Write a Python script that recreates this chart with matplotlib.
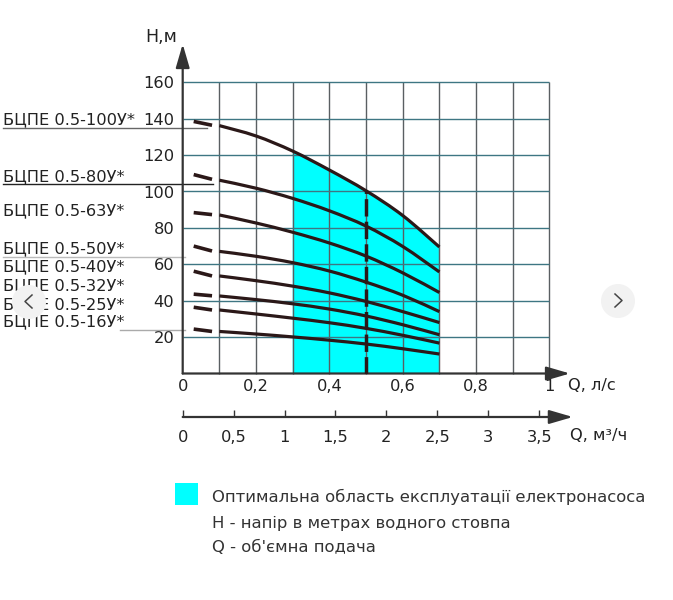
import numpy as np
import matplotlib
matplotlib.use('Agg')
import matplotlib.pyplot as plt
from matplotlib.transforms import blended_transform_factory
from matplotlib.patches import Circle, Rectangle, PathPatch
from matplotlib.lines import Line2D
from matplotlib.path import Path

plt.rcParams['font.family'] = ['DejaVu Sans']

# Дані: характеристики насосів БЦПЕ, Q у л/с, H у метрах
pumps = ['БЦПЕ 0.5-100У*', 'БЦПЕ 0.5-80У*', 'БЦПЕ 0.5-63У*', 'БЦПЕ 0.5-50У*',
         'БЦПЕ 0.5-40У*', 'БЦПЕ 0.5-32У*', 'БЦПЕ 0.5-25У*', 'БЦПЕ 0.5-16У*']
q_curve = [0.1, 0.2, 0.3, 0.4, 0.5, 0.6, 0.7]
h_100 = [136.2, 130.5, 122.2, 111.8, 100.4, 86.8, 69.5]
h_80 = [106.2, 101.8, 96.2, 89.4, 81.0, 69.8, 55.8]
h_63 = [87.1, 82.7, 77.6, 71.7, 64.5, 55.3, 44.5]
h_50 = [67.1, 64.4, 60.9, 56.3, 50.2, 43.0, 34.0]
h_40 = [53.6, 51.0, 48.0, 44.3, 39.6, 34.0, 28.0]
h_32 = [42.6, 40.6, 38.3, 35.4, 31.6, 26.8, 21.3]
h_25 = [34.9, 32.7, 30.4, 27.9, 24.8, 21.0, 16.7]
h_16 = [23.1, 21.7, 20.1, 18.3, 16.2, 13.6, 10.7]
curves = [h_100, h_80, h_63, h_50, h_40, h_32, h_25, h_16]

# короткі штрихи на початку кривих (Q ~ 0.03..0.08)
q_dash = [0.03, 0.08]
dash_h = [[138.5, 136.4], [109.3, 106.7], [88.4, 87.3], [70.0, 67.3],
          [56.2, 53.6], [43.6, 42.7], [36.4, 34.9], [24.4, 23.1]]

q_opt = [0.3, 0.7]       # оптимальна область
q_nominal = 0.5          # номінальна подача

y_ticks = [20, 40, 60, 80, 100, 120, 140, 160]
x_ticks = [0, 0.2, 0.4, 0.6, 0.8, 1.0]
x_tick_labels = ['0', '0,2', '0,4', '0,6', '0,8', '1']
m3_ticks = [0, 0.5, 1, 1.5, 2, 2.5, 3, 3.5]
m3_tick_labels = ['0', '0,5', '1', '1,5', '2', '2,5', '3', '3,5']

# позиції підписів насосів (по H) зліва
label_h = [139.5, 107.8, 89.2, 68.6, 58.7, 48.4, 38.0, 28.2]

W, HH = 673, 600
def fx(px):
    return px / W
def fy(py):
    return 1 - py / HH


def smooth_segments(x, y, i0, i1):
    # Catmull-Rom -> кубічні Безьє між точками i0..i1
    x = np.asarray(x, float)
    y = np.asarray(y, float)
    n = len(x)
    verts = [(x[i0], y[i0])]
    codes = []
    for i in range(i0, i1):
        a = max(i - 1, 0)
        b = min(i + 2, n - 1)
        c1 = (x[i] + (x[i + 1] - x[a]) / 6, y[i] + (y[i + 1] - y[a]) / 6)
        c2 = (x[i + 1] - (x[b] - x[i]) / 6, y[i + 1] - (y[b] - y[i]) / 6)
        verts += [c1, c2, (x[i + 1], y[i + 1])]
        codes += [Path.CURVE4] * 3
    return verts, codes


fig = plt.figure(figsize=(6.73, 6.0), dpi=100)
ax = fig.add_axes([fx(182.7), fy(373.5), 366.7 / W, 291.2 / HH])
ax.set_xlim(0, 1)
ax.set_ylim(0, 160)
for s in ax.spines.values():
    s.set_visible(False)

# сітка
ax.vlines(np.arange(0.1, 1.01, 0.1), 0, 160, color='#5a5f62', lw=1.0, zorder=1, clip_on=False)
ax.hlines(np.arange(20, 161, 20), 0, 1, color='#3e7683', lw=1.0, zorder=1, clip_on=False)

# оптимальна область під кривою 100
i0 = q_curve.index(q_opt[0])
i1 = q_curve.index(q_opt[1])
v, c = smooth_segments(q_curve, h_100, i0, i1)
verts = [(q_opt[0], 0)] + v + [(q_opt[1], 0), (q_opt[0], 0)]
codes = [Path.MOVETO, Path.LINETO] + c + [Path.LINETO, Path.CLOSEPOLY]
ax.add_patch(PathPatch(Path(verts, codes), facecolor='#00ffff', edgecolor='none', zorder=0.5))
ax.plot([q_opt[1], q_opt[1]], [0, h_100[-1]], color='#ff6666', lw=0.8, zorder=0.6)

# криві
line_col = '#2b1818'
for h, d in zip(curves, dash_h):
    v, c = smooth_segments(q_curve, h, 0, len(q_curve) - 1)
    ax.add_patch(PathPatch(Path(v, [Path.MOVETO] + c), facecolor='none', edgecolor=line_col,
                           lw=2.3, capstyle='butt', zorder=3))
    ax.plot(q_dash, d, color=line_col, lw=2.6, solid_capstyle='butt', zorder=3)

# вертикальна штрихова лінія номінальної подачі
ax.plot([q_nominal, q_nominal], [0, h_100[q_curve.index(q_nominal)]], color=line_col,
        lw=2.5, dashes=(5, 1.5), zorder=3.5)

# осі зі стрілками
arrow = dict(arrowstyle='-|>,head_length=1.2,head_width=0.35', color='#333333',
             lw=1.6, mutation_scale=12, shrinkA=0, shrinkB=0)
ax.annotate('', xy=(0, 181), xytext=(0, 0), annotation_clip=False, arrowprops=arrow)
ax.annotate('', xy=(1.056, 0), xytext=(0, 0), annotation_clip=False, arrowprops=arrow)

ax.set_yticks(y_ticks)
ax.set_yticklabels([str(v) for v in y_ticks])
ax.set_xticks(x_ticks)
ax.set_xticklabels(x_tick_labels)
ax.tick_params(axis='y', length=0, pad=6, labelsize=11.7, labelcolor='#222222')
ax.tick_params(axis='x', length=0, pad=4, labelsize=11.7, labelcolor='#222222')

fig.text(fx(161), fy(37), 'H,м', ha='center', va='center', fontsize=12.5, color='#222222')
fig.text(fx(568), fy(385), 'Q, л/с', ha='left', va='center', fontsize=11.7, color='#222222')

# підписи насосів
tr = blended_transform_factory(fig.transFigure, ax.transData)
for name, yh in zip(pumps, label_h):
    ax.text(fx(3), yh, name, transform=tr, ha='left', va='center', fontsize=11.7,
            color='#222222', clip_on=False, zorder=4)
underlines = [(134.8, 3, 207, '#666666'), (104.0, 3, 213, '#222222'),
              (64.2, 3, 185, '#bbbbbb'), (23.8, 120, 185, '#aaaaaa')]
for yh, x0, x1, col in underlines:
    ax.plot([fx(x0), fx(x1)], [yh, yh], transform=tr, color=col, lw=1.0, clip_on=False, zorder=2)

# друга шкала подачі, м3/год
ax2 = fig.add_axes([fx(182.7), fy(417), 366.7 / W, 0.02])
ax2.set_xlim(0, 3.6)
ax2.set_ylim(0, 1)
for s in ax2.spines.values():
    s.set_visible(False)
ax2.patch.set_alpha(0)
ax2.set_yticks([])
ax2.set_xticks(m3_ticks)
ax2.set_xticklabels(m3_tick_labels)
ax2.tick_params(axis='x', direction='in', length=5, width=1, color='#333333', pad=9,
                labelsize=11.7, labelcolor='#222222')
ax2.annotate('', xy=(3.83, 0), xytext=(0, 0), annotation_clip=False, arrowprops=arrow)
fig.text(fx(570), fy(435), 'Q, м³/ч', ha='left', va='center', fontsize=11.7, color='#222222')

# легенда
fig.patches.append(Rectangle((fx(175), fy(505)), 23 / W, 22 / HH, transform=fig.transFigure,
                             facecolor='#00ffff', edgecolor='none'))
legend_lines = ['Оптимальна область експлуатації електронасоса',
                'H - напір в метрах водного стовпа',
                "Q - об'ємна подача"]
for txt, py in zip(legend_lines, [497, 523, 547]):
    fig.text(fx(212), fy(py), txt, ha='left', va='center', fontsize=11.85, color='#333333')

# кнопки каруселі
for cx, cy, pts in [(29, 302, [(32, 295), (25, 301.5), (32, 308)]),
                    (618, 301, [(615, 294), (622, 300.5), (615, 307)])]:
    circ = Circle((cx / 100, (HH - cy) / 100), 0.17, transform=fig.dpi_scale_trans,
                  facecolor='#f2f2f2', edgecolor='none', zorder=10)
    fig.add_artist(circ)
    fig.add_artist(Line2D([p[0] / 100 for p in pts], [(HH - p[1]) / 100 for p in pts],
                          transform=fig.dpi_scale_trans, color='#444444', lw=1.1, zorder=11))

fig.savefig('out.png', dpi=100)
